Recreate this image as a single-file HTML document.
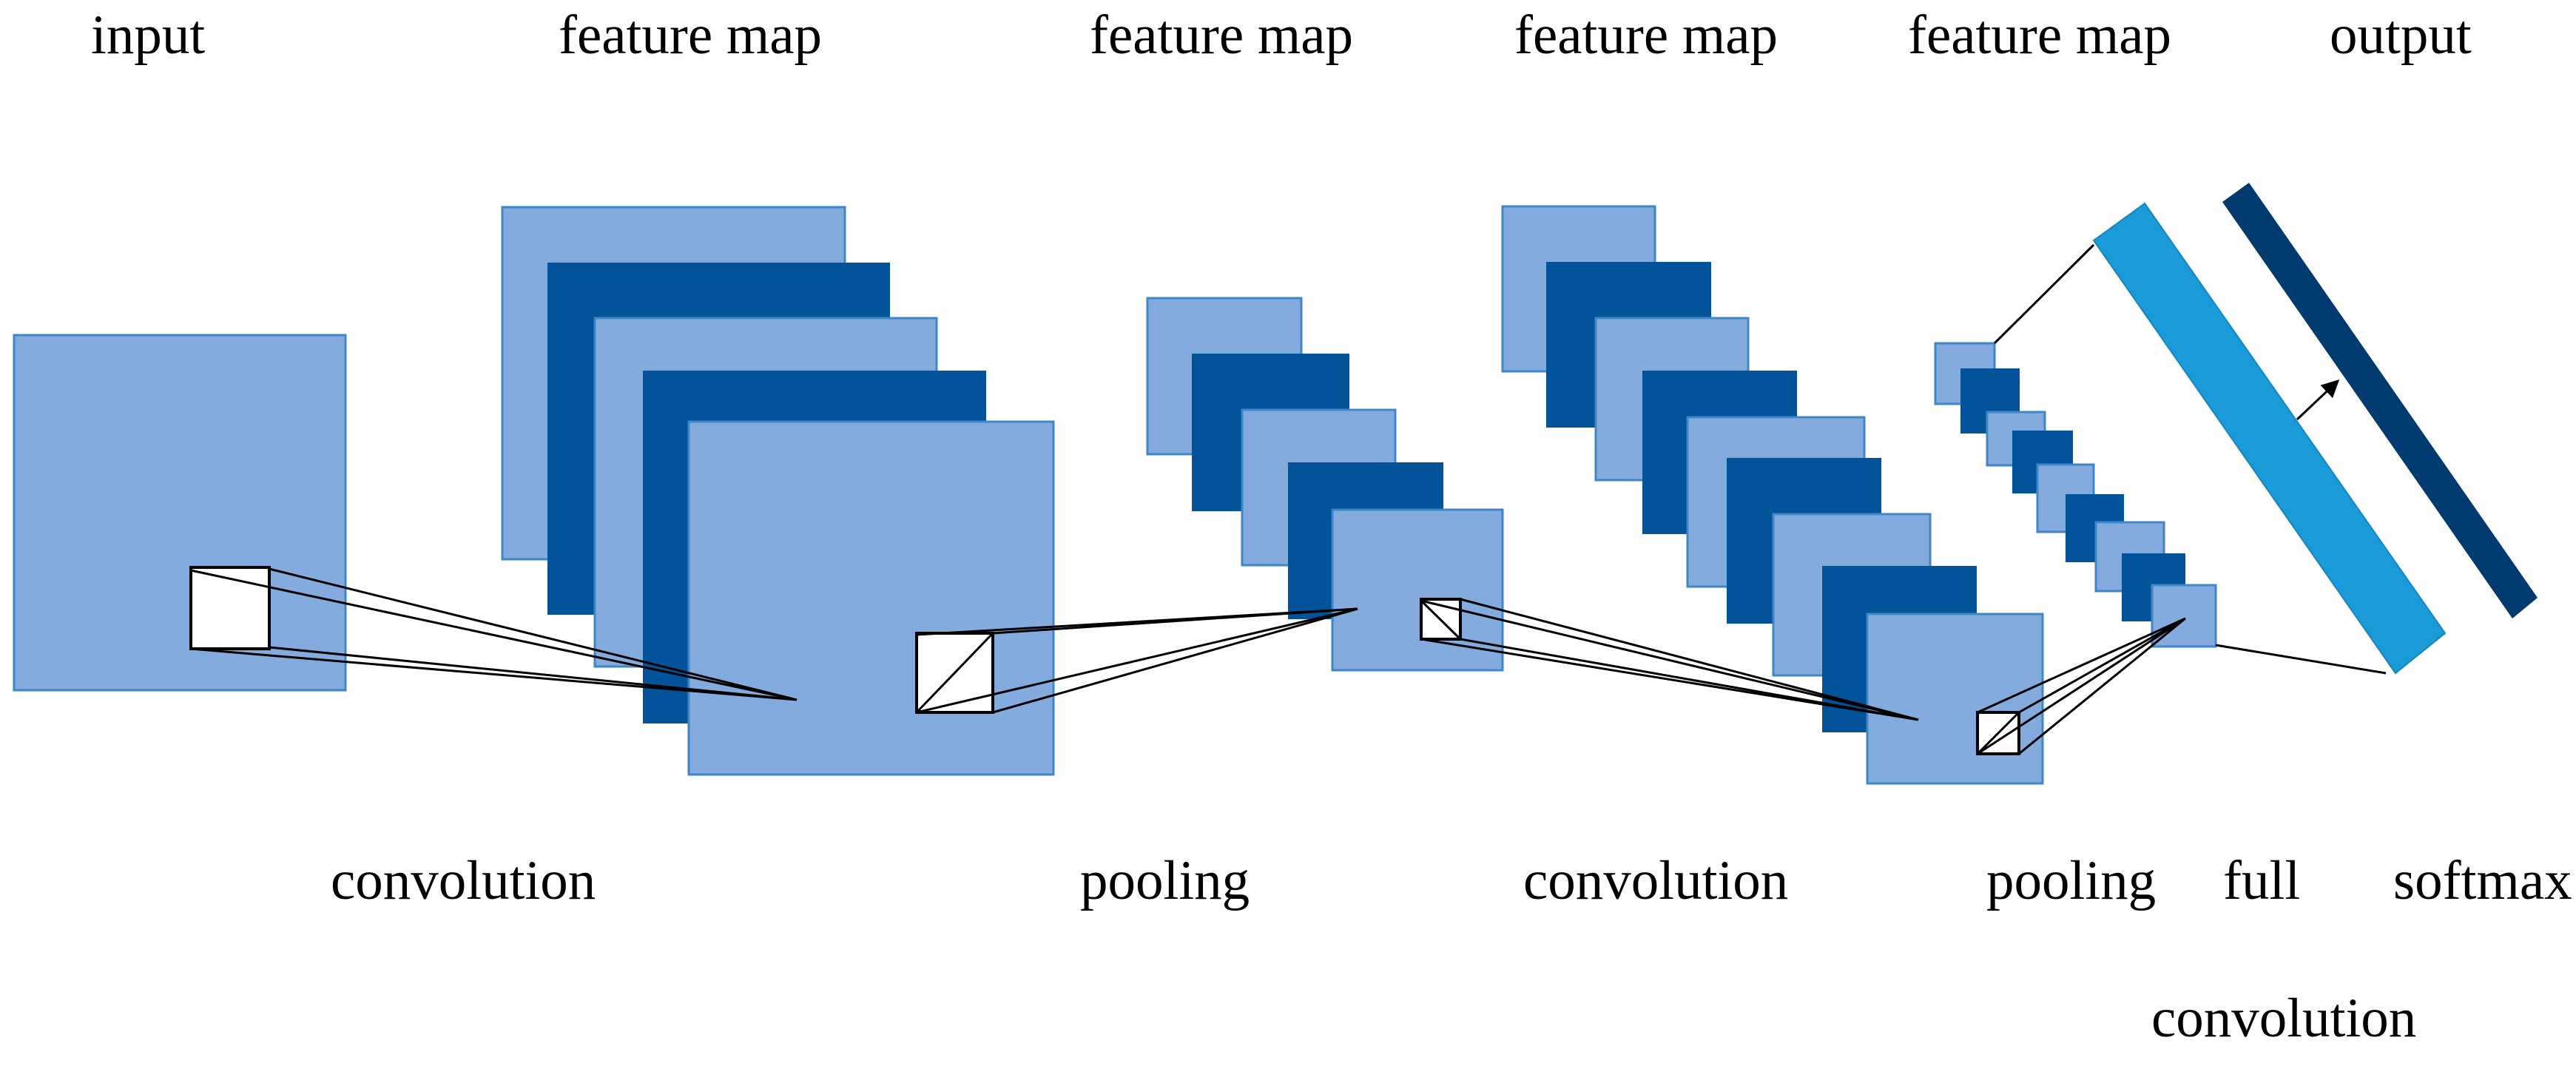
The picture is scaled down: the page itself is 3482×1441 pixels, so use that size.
<!DOCTYPE html>
<html><head><meta charset="utf-8"><style>
html,body{margin:0;padding:0;background:#fff}
svg{display:block}
text{font-family:"Liberation Serif",serif;font-size:75px;fill:#000}
.l{fill:#84abde;stroke:#3f86c6;stroke-width:3}
.d{fill:#02539a}
.k{stroke:#000;stroke-width:3;fill:none}
.w{fill:#fff;stroke:#000;stroke-width:4}
</style></head><body>
<svg width="3482" height="1441" viewBox="0 0 3482 1441" xmlns="http://www.w3.org/2000/svg">
<defs><marker id="ah" markerWidth="8" markerHeight="8" refX="7" refY="4" orient="auto" markerUnits="strokeWidth"><path d="M0,0 L8,4 L0,8 z" fill="#000"/></marker></defs>
<text x="123" y="72">input</text>
<text x="755" y="72">feature map</text>
<text x="1473" y="72">feature map</text>
<text x="2047" y="72">feature map</text>
<text x="2579" y="72">feature map</text>
<text x="3149" y="72">output</text>
<text x="447" y="1215">convolution</text>
<text x="1460" y="1215">pooling</text>
<text x="2059" y="1215">convolution</text>
<text x="2685" y="1215">pooling</text>
<text x="3005" y="1215">full</text>
<text x="3235" y="1215">softmax</text>
<text x="2908" y="1401">convolution</text>
<!-- input -->
<rect class="l" x="19" y="453" width="448" height="480"/>
<!-- FM1 -->
<rect class="l" x="679" y="280" width="463" height="476"/>
<rect class="d" x="740" y="355" width="463" height="476"/>
<rect class="l" x="804" y="430" width="462" height="471"/>
<rect class="d" x="869" y="501" width="464" height="477"/>
<rect class="l" x="931" y="570" width="493" height="477"/>
<!-- input square + lines -->
<rect class="w" x="258" y="767" width="106" height="110"/>
<path class="k" d="M258 771 L1077 946 M364 769 L1077 946 M258 877 L1077 946 M364 875 L1077 946"/>
<!-- pool1 -->
<rect class="l" x="1551" y="403" width="208" height="211"/>
<rect class="d" x="1611" y="478" width="213" height="213"/>
<rect class="l" x="1679" y="554" width="207" height="210"/>
<rect class="d" x="1741" y="625" width="210" height="212"/>
<rect class="l" x="1801" y="689" width="230" height="217"/>
<!-- FM1 square + lines -->
<rect class="w" x="1239" y="856" width="103" height="107"/>
<path class="k" d="M1239 858 L1835 823 M1342 856 L1835 823 M1239 963 L1835 823 M1342 963 L1835 823 M1239 963 L1342 856"/>
<!-- conv2 -->
<rect class="l" x="2031" y="279" width="206" height="223"/>
<rect class="d" x="2090" y="354" width="223" height="224"/>
<rect class="l" x="2157" y="430" width="206" height="219"/>
<rect class="d" x="2220" y="501" width="209" height="221"/>
<rect class="l" x="2281" y="564" width="239" height="229"/>
<rect class="d" x="2334" y="619" width="209" height="224"/>
<rect class="l" x="2397" y="695" width="212" height="218"/>
<rect class="d" x="2463" y="765" width="209" height="225"/>
<rect class="l" x="2524" y="830" width="237" height="229"/>
<!-- pool1 square + lines -->
<rect class="w" x="1921" y="810" width="53" height="54"/>
<path class="k" d="M1921 812 L2593 973 M1974 810 L2593 973 M1921 864 L2593 973 M1974 864 L2593 973 M1921 812 L1974 864"/>
<!-- pool2 -->
<rect class="l" x="2616" y="464" width="80" height="82"/>
<rect class="d" x="2650" y="498" width="80" height="88"/>
<rect class="l" x="2686" y="557" width="78" height="72"/>
<rect class="d" x="2720" y="582" width="82" height="85"/>
<rect class="l" x="2754" y="628" width="76" height="91"/>
<rect class="d" x="2792" y="668" width="79" height="92"/>
<rect class="l" x="2833" y="706" width="92" height="93"/>
<rect class="d" x="2868" y="748" width="86" height="92"/>
<rect class="l" x="2909" y="791" width="86" height="83"/>
<!-- conv2 square + lines -->
<rect class="w" x="2673" y="963" width="56" height="56"/>
<path class="k" stroke-width="2" d="M2673 963 L2954 836 M2729 963 L2954 836 M2673 1019 L2954 836 M2729 1019 L2954 836 M2673 1019 L2729 963"/>
<!-- full -->
<polygon points="2830,325 2899,275 3305,856 3238,910" fill="#1a9ad6" stroke="#1586c0" stroke-width="2"/>
<path class="k" stroke-width="2" d="M2696 464 L2830 331 M2995 872 L3225 910"/>
<!-- softmax -->
<polygon points="3004,273 3040,247 3430,808 3396,836" fill="#003a6e"/>
<line class="k" x1="3105" y1="567" x2="3160" y2="515" marker-end="url(#ah)"/>
</svg>
</body></html>
